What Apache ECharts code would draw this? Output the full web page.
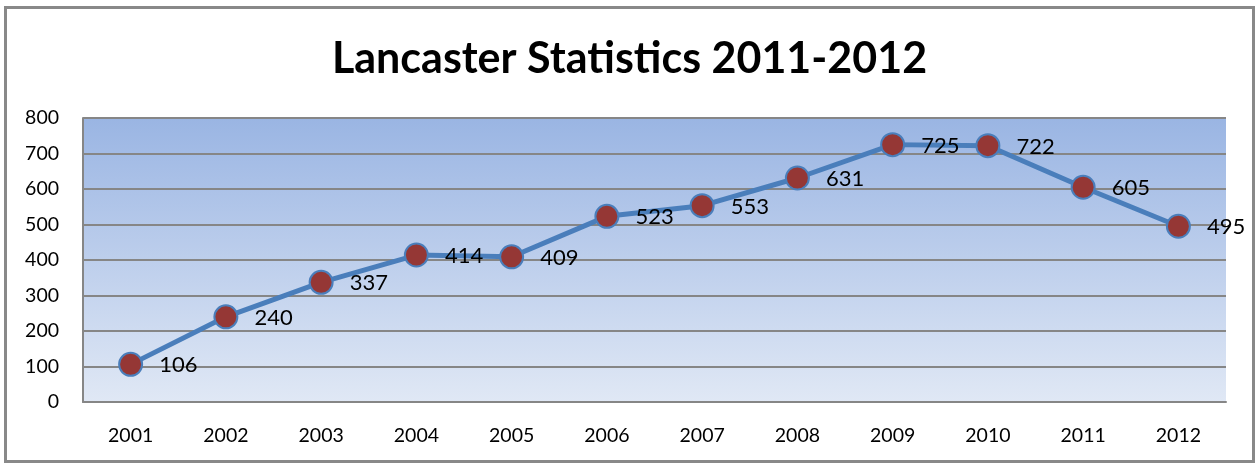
<!DOCTYPE html>
<html><head><meta charset="utf-8">
<script src="https://cdn.jsdelivr.net/npm/echarts@6/dist/echarts.min.js"></script>
<style>html,body{margin:0;padding:0;background:#fff}#c{width:1259px;height:464px}</style>
</head><body><div id="c"></div>
<script>
const titleText = 'Lancaster Statistics 2011-2012';
const categories = ['2001','2002','2003','2004','2005','2006','2007','2008','2009','2010','2011','2012'];
const values = [106, 240, 337, 414, 409, 523, 553, 631, 725, 722, 605, 495];
const yTicks = [0, 100, 200, 300, 400, 500, 600, 700, 800];

const chart = echarts.init(document.getElementById('c'), null, {renderer: 'canvas'});
const font = 'Lato, "Open Sans", sans-serif';
chart.setOption({
  animation: false,
  backgroundColor: '#fff',
  title: {
    text: titleText, left: 'center', top: 33,
    textStyle: {fontFamily: font, fontWeight: 'bold', fontSize: 43, color: '#000'}
  },
  graphic: [{
    type: 'rect', shape: {x: 5.5, y: 7.5, width: 1248, height: 454},
    style: {fill: 'none', stroke: '#898989', lineWidth: 3}, z: 100
  }],
  grid: {
    left: 83, right: 33, top: 118, bottom: 62, show: true, borderWidth: 0,
    backgroundColor: new echarts.graphic.LinearGradient(0, 0, 0, 1, [
      {offset: 0, color: '#9ab5e3'}, {offset: 1, color: '#e0e8f5'}
    ])
  },
  xAxis: {
    type: 'category', data: categories, boundaryGap: true,
    axisLine: {lineStyle: {color: '#868686', width: 2}},
    axisTick: {show: false},
    axisLabel: {fontFamily: font, fontSize: 19.5, color: '#000', margin: 24}
  },
  yAxis: {
    type: 'value', min: yTicks[0], max: yTicks[yTicks.length - 1], interval: 100,
    axisLine: {show: true, lineStyle: {color: '#868686', width: 2}},
    axisTick: {show: false},
    splitLine: {lineStyle: {color: '#868686', width: 2}},
    axisLabel: {fontFamily: font, fontSize: 19.5, color: '#000', margin: 24}
  },
  series: [{
    type: 'line', data: values,
    lineStyle: {color: '#4a7ebb', width: 5},
    symbol: 'circle', symbolSize: 23,
    itemStyle: {color: '#953735', borderColor: '#4a7ebb', borderWidth: 2},
    label: {show: true, position: 'right', distance: 16, fontFamily: font, fontSize: 22, color: '#000', offset: [0, 1]}
  }]
});
</script></body></html>
